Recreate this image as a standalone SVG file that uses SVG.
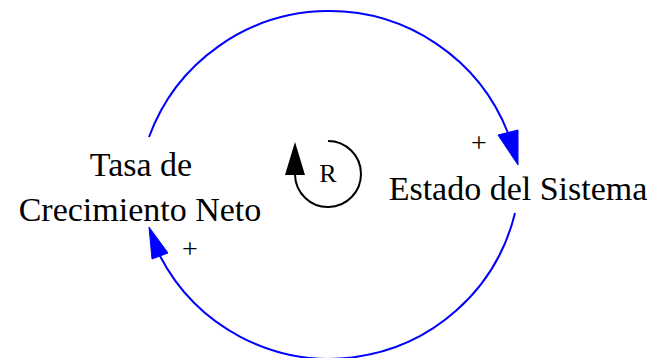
<svg xmlns="http://www.w3.org/2000/svg" width="657" height="358" viewBox="0 0 657 358">
<style>
.lbl{font-family:"Liberation Serif","Times New Roman",serif;fill:#000;text-anchor:middle}
.node{font-size:34px}
.sign{font-size:28px}
.edge{fill:none;stroke:#0000ff;stroke-width:2}
.head{fill:#0000ff;stroke:#0000ff;stroke-width:1}
</style>
<rect width="657" height="358" fill="#fff"/>
<g id="connectors">
<path class="edge" d="M149,137 A192,192 0 0 1 508,133"/>
<polygon class="head" points="498,135 518,130 518,165"/>
<path class="edge" d="M515,213 A191,191 0 0 1 160,256"/>
<polygon class="head" points="149,227 152,259 168,253"/>
<text class="lbl sign" x="479" y="152">+</text>
<text class="lbl sign" x="190" y="258">+</text>
</g>
<g id="tasa">
<text class="lbl node" x="141" y="176">Tasa de</text>
<text class="lbl node" x="140" y="221">Crecimiento Neto</text>
</g>
<g id="estado">
<text class="lbl node" x="518" y="200">Estado del Sistema</text>
</g>
<g id="loop">
<path d="M328,141 A33,33 0 1 1 295,175" fill="none" stroke="#000" stroke-width="2"/>
<polygon points="295,142 285,175 305,175" fill="#000"/>
<text class="lbl" x="328" y="182" font-size="26">R</text>
</g>
</svg>
